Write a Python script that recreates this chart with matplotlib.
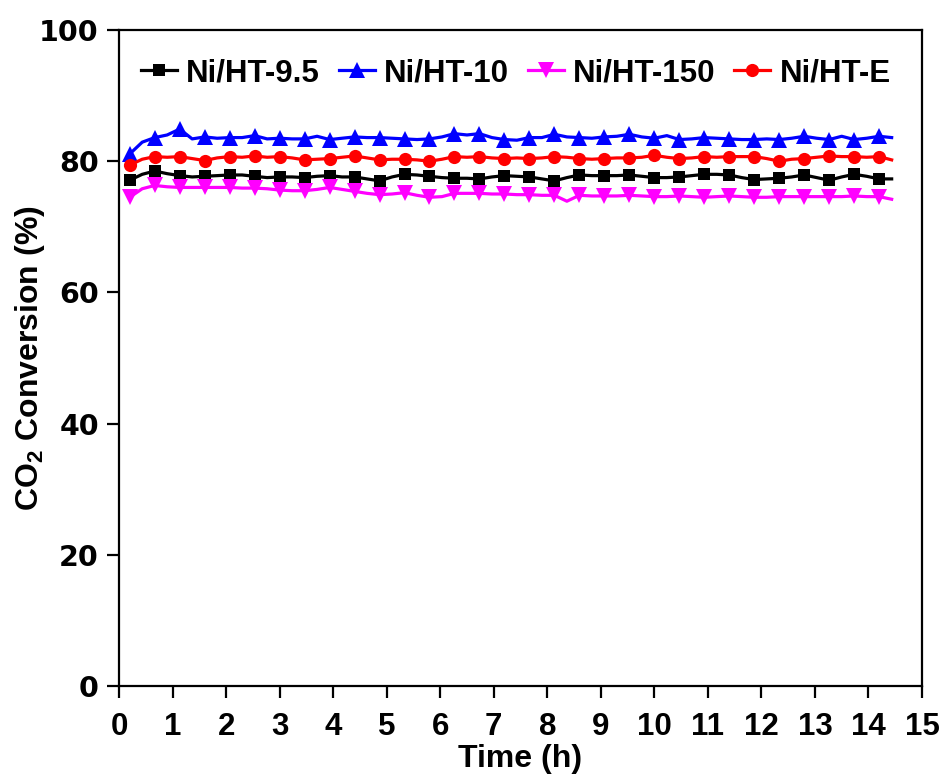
import matplotlib
matplotlib.use("Agg")
import matplotlib.pyplot as plt

# ---------------- data ----------------
time_min = [12, 26, 40, 54, 68, 82, 96, 110, 124, 138, 152, 166, 180, 194, 208, 222,
            236, 250, 264, 278, 292, 306, 320, 334, 348, 362, 376, 390, 404, 418, 432,
            446, 460, 474, 488, 502, 516, 530, 544, 558, 572, 586, 600, 614, 628, 642,
            656, 670, 684, 698, 712, 726, 740, 754, 768, 782, 796, 810, 824, 838, 852, 866]

ni_ht_95 = [77.1, 78.0, 78.5, 78.1, 77.8, 77.6, 77.7, 77.8, 77.9, 77.9, 77.7, 77.5,
            77.6, 77.6, 77.5, 77.7, 77.8, 77.6, 77.6, 77.3, 77.0, 77.6, 78.0, 77.9,
            77.7, 77.5, 77.4, 77.4, 77.3, 77.6, 77.8, 77.7, 77.6, 77.3, 77.0, 77.5,
            77.9, 77.8, 77.8, 77.8, 77.9, 77.7, 77.5, 77.5, 77.6, 77.8, 78.0, 78.0,
            77.9, 77.5, 77.2, 77.3, 77.4, 77.6, 77.9, 77.5, 77.1, 77.6, 78.0, 77.7,
            77.3, 77.3]

ni_ht_10 = [81.1, 82.9, 83.6, 84.0, 84.9, 83.4, 83.7, 83.5, 83.6, 83.6, 83.9, 83.4,
            83.5, 83.4, 83.4, 83.8, 83.3, 83.5, 83.7, 83.6, 83.6, 83.5, 83.4, 83.3,
            83.4, 83.7, 84.2, 84.0, 84.2, 83.6, 83.3, 83.2, 83.6, 83.6, 84.1, 83.7,
            83.6, 83.5, 83.7, 83.8, 84.1, 83.7, 83.5, 83.9, 83.3, 83.4, 83.6, 83.5,
            83.4, 83.3, 83.3, 83.4, 83.3, 83.5, 83.8, 83.5, 83.3, 83.8, 83.3, 83.5,
            83.8, 83.6]

ni_ht_150 = [74.5, 75.8, 76.3, 76.1, 76.0, 76.0, 76.0, 76.0, 76.0, 75.9, 75.9, 75.8,
             75.6, 75.5, 75.5, 75.7, 76.0, 75.7, 75.4, 75.1, 74.9, 75.0, 75.2, 74.8,
             74.5, 74.6, 75.1, 75.1, 75.1, 75.0, 75.0, 74.9, 74.9, 74.8, 74.8, 73.9,
             74.8, 74.7, 74.7, 74.7, 74.8, 74.7, 74.6, 74.6, 74.7, 74.6, 74.5, 74.6,
             74.7, 74.6, 74.5, 74.5, 74.6, 74.6, 74.6, 74.6, 74.6, 74.6, 74.7, 74.6,
             74.6, 74.2]

ni_ht_e = [79.4, 80.3, 80.7, 80.6, 80.7, 80.4, 80.1, 80.5, 80.7, 80.6, 80.8, 80.6,
           80.7, 80.5, 80.2, 80.3, 80.4, 80.6, 80.8, 80.5, 80.2, 80.3, 80.3, 80.2,
           80.0, 80.3, 80.7, 80.6, 80.7, 80.5, 80.4, 80.5, 80.4, 80.5, 80.7, 80.6,
           80.4, 80.3, 80.4, 80.5, 80.5, 80.6, 80.9, 80.6, 80.4, 80.5, 80.7, 80.6,
           80.7, 80.7, 80.7, 80.4, 80.0, 80.3, 80.4, 80.6, 80.8, 80.7, 80.7, 80.6,
           80.7, 80.2]

labels = ["Ni/HT-9.5", "Ni/HT-10", "Ni/HT-150", "Ni/HT-E"]
x_ticks = list(range(0, 16))
y_ticks = [0, 20, 40, 60, 80, 100]

# ---------------- style ----------------
sans = "Liberation Sans"
plt.rcParams["font.family"] = [sans, "DejaVu Sans"]
plt.rcParams["mathtext.fontset"] = "custom"
plt.rcParams["mathtext.rm"] = sans + ":bold"
plt.rcParams["mathtext.bf"] = sans + ":bold"
plt.rcParams["mathtext.it"] = sans + ":bold"

fig = plt.figure(figsize=(9.46, 7.80), dpi=100)
ax = fig.add_axes([119 / 946, 94 / 780, (922 - 119) / 946, (686 - 30) / 780])

t_h = [m / 60.0 for m in time_min]
series = [
    (ni_ht_95, "black", "s", 8.5),
    (ni_ht_10, "#0000FF", "^", 11.5),
    (ni_ht_150, "#FF00FF", "v", 11.5),
    (ni_ht_e, "#FF0000", "o", 9.5),
]
for (vals, col, mk, ms), lab in zip(series, labels):
    ax.plot(t_h, vals, color=col, lw=2.3, marker=mk, ms=ms, markevery=2,
            markeredgewidth=0, label=lab)

ax.set_xlim(0, 15)
ax.set_ylim(0, 100)
ax.set_xticks(x_ticks)
ax.set_yticks(y_ticks)

for s in ax.spines.values():
    s.set_linewidth(1.6)
ax.tick_params(axis="both", direction="out", length=8.5, width=1.6)
ax.tick_params(axis="x", pad=10)
ax.tick_params(axis="y", pad=6)
for lbl in ax.get_xticklabels():
    lbl.set_fontfamily(sans)
    lbl.set_fontweight("bold")
    lbl.set_fontsize(22.5)
for lbl in ax.get_yticklabels():
    lbl.set_fontfamily("DejaVu Sans")
    lbl.set_fontweight("bold")
    lbl.set_fontsize(20.5)

ax.set_xlabel("Time (h)", fontsize=23, fontweight="bold", labelpad=2)
ax.set_ylabel(r"CO$_{2}$ Conversion (%)", fontsize=23, fontweight="bold")
ax.yaxis.set_label_coords(-0.09, 0.5)

leg = ax.legend(loc="upper left", bbox_to_anchor=(0.0, 0.99), ncol=4, frameon=False,
                prop={"family": sans, "weight": "bold", "size": 22.5},
                numpoints=1, handlelength=1.15, handletextpad=0.3,
                columnspacing=0.6, borderaxespad=0.3)
for h in leg.legend_handles:
    h.set_markevery([1])

fig.savefig("out.png", dpi=100)
